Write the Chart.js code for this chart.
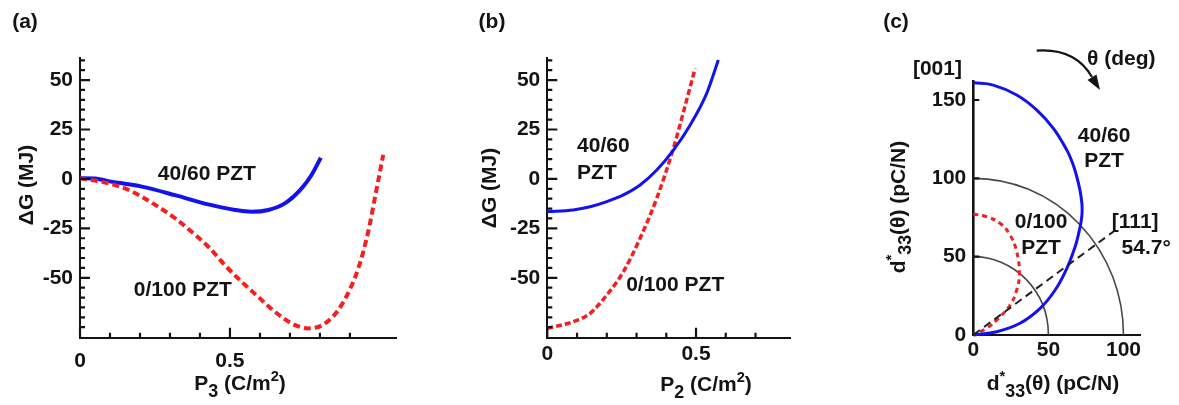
<!DOCTYPE html>
<html lang="en">
<head>
<meta charset="UTF-8">
<title>PZT free energy and d33 anisotropy</title>
<script src="https://cdn.jsdelivr.net/npm/chart.js@4"></script>
<style>
  body { margin: 0; background: #fff; }
  #wrap { position: relative; width: 1179px; height: 405px; }
  #wrap canvas { position: absolute; left: 0; top: 0; }
</style>
</head>
<body>
<div id="wrap">
  <canvas id="chartA" width="1179" height="405"></canvas>
  <canvas id="chartB" width="1179" height="405"></canvas>
  <canvas id="chartC" width="1179" height="405"></canvas>
</div>
<script>
// ---- data ----
// (a) free energy vs P3
const p3Blue = [0, 0.05, 0.094, 0.206, 0.317, 0.428, 0.517, 0.572, 0.628, 0.683, 0.739, 0.772, 0.803];
const gBlueA = [0.3, 0.2, -1.1, -3.9, -8.2, -12.9, -15.7, -16.6, -15.7, -12.4, -4.8, 2.0, 10.7];
const p3Red = [0, 0.094, 0.15, 0.206, 0.261, 0.317, 0.372, 0.428, 0.483, 0.539, 0.594, 0.65, 0.706, 0.761, 0.817, 0.872, 0.928, 0.961, 0.983, 1.011];
const gRedA = [0.3, -2.2, -4.8, -9.0, -14.1, -19.9, -26.7, -34.3, -43.6, -52.0, -59.6, -67.2, -73.1, -75.6, -73.1, -63.8, -45.2, -26.7, -9.8, 12.1];

// (b) free energy vs P2
const p2Blue = [0, 0.087, 0.144, 0.2, 0.256, 0.312, 0.368, 0.424, 0.48, 0.536, 0.575];
const gBlueB = [-16.6, -15.7, -14.1, -11.5, -8.1, -3.1, 4.5, 14.6, 27.2, 43.3, 60.1];
const p2Red = [0, 0.087, 0.144, 0.2, 0.256, 0.312, 0.368, 0.424, 0.458, 0.497];
const gRedB = [-75.6, -72.2, -68.0, -58.7, -46.9, -30.0, -9.8, 15.5, 34.0, 55.9];

// (c) d*33(theta) surface, x = d sin(theta), y = d cos(theta)
const dxBlue = [0, 13.3, 28.9, 42.3, 53.3, 62.3, 66.2, 68.9, 71.0, 72.3, 72.4, 71.6, 69.9, 67.8, 62.3, 54.5, 44.5, 31.1, 15.6, 0];
const dyBlue = [161, 159.5, 153.2, 143.6, 131.9, 118, 109.5, 101, 92.5, 84, 77.5, 71.3, 63.8, 56.4, 42.6, 28.7, 17, 7.5, 2.1, 0];
const dxRed = [0, 8.9, 17.8, 24.5, 28.9, 30.7, 28.9, 24.5, 16.7, 8.9, 0];
const dyRed = [77.2, 75.5, 71.3, 63.8, 53.2, 39.4, 28.7, 19.1, 10.6, 4.3, 0];
const dx111 = [0, 93.3];
const dy111 = [0, 66];
const rings = [50, 100];

// ticks
const gTicks = [-50, -25, 0, 25, 50];
const pTicks = [0, 0.5];
const dTicksX = [0, 50, 100];
const dTicksY = [0, 50, 100, 150];

// ---- styling ----
const FONT = '"Liberation Sans", Arial, Helvetica, sans-serif';
const SIZE = 21;
const INK = '#141414';
const BLUE = 'rgb(18,18,238)';
const RED = 'rgb(244,32,32)';

function setFont(ctx, size) {
  ctx.font = 'bold ' + size + 'px ' + FONT;
}

function label(ctx, text, x, y, align) {
  ctx.textAlign = align || 'center';
  ctx.textBaseline = 'middle';
  ctx.fillText(text, x, y);
}

// text with sub/superscripts, centred on x, baseline at y
function rich(ctx, parts, x, y) {
  const fontOf = k => setFont(ctx, k === 'sub' ? SIZE * 0.85 : k === 'sup' ? SIZE * 0.7 : SIZE);
  let w = 0;
  parts.forEach(([t, k]) => { fontOf(k); w += ctx.measureText(t).width; });
  let cx = x - w / 2;
  ctx.textAlign = 'left';
  ctx.textBaseline = 'alphabetic';
  parts.forEach(([t, k]) => {
    fontOf(k);
    const dy = k === 'sub' ? SIZE * 0.32 : k === 'sup' ? -SIZE * 0.42 : 0;
    ctx.fillText(t, cx, y + dy);
    cx += ctx.measureText(t).width;
  });
}

function vRich(ctx, parts, x, y) {
  ctx.save();
  ctx.translate(x, y);
  ctx.rotate(-Math.PI / 2);
  rich(ctx, parts, 0, 7.5);
  ctx.restore();
}

function lineSet(xs, ys, color, width, dash, smooth) {
  const set = {
    data: xs.map((x, i) => ({ x: x, y: ys[i] })),
    borderColor: color,
    borderWidth: width,
    borderDash: dash || [],
    pointRadius: 0,
    showLine: true,
    fill: false,
    clip: false
  };
  if (smooth === 'mono') set.cubicInterpolationMode = 'monotone';
  else set.tension = 0.4;
  return set;
}

function axis(min, max, ticks, fit, pad, borderW) {
  return {
    type: 'linear',
    min: min,
    max: max,
    afterBuildTicks: s => { s.ticks = ticks.map(v => ({ value: v })); },
    afterFit: s => { if (s.isHorizontal()) s.height = fit; else s.width = fit; },
    grid: { display: false, drawTicks: false },
    border: { display: true, color: INK, width: borderW },
    ticks: {
      padding: pad,
      color: INK,
      autoSkip: false,
      maxRotation: 0,
      font: { family: FONT, size: SIZE, weight: 'bold' },
      callback: v => String(v)
    }
  };
}

// inward major and minor ticks, placed through the chart's scales
function drawTicks(chart, spec) {
  const ctx = chart.ctx;
  const a = chart.chartArea;
  const xs = chart.scales.x, ys = chart.scales.y;
  ctx.save();
  ctx.setLineDash([]);
  ctx.strokeStyle = INK;
  ctx.lineWidth = 2.2;
  ctx.beginPath();
  const xMajor = spec.xMajor || [];
  xMajor.forEach(v => {
    const px = xs.getPixelForValue(v);
    ctx.moveTo(px, a.bottom); ctx.lineTo(px, a.bottom - spec.xMajorLen);
  });
  for (let i = 1; i <= (spec.xMinorCount || 0); i++) {
    const v = i * spec.xMinorStep;
    if (xMajor.some(m => Math.abs(m - v) < 1e-9)) continue;
    const px = xs.getPixelForValue(v);
    ctx.moveTo(px, a.bottom); ctx.lineTo(px, a.bottom - spec.xMinorLen);
  }
  const yMajor = spec.yMajor || [];
  yMajor.forEach(v => {
    const py = ys.getPixelForValue(v);
    ctx.moveTo(a.left, py); ctx.lineTo(a.left + spec.yMajorLen, py);
  });
  if (spec.yMinorStep) {
    for (let v = spec.yMinorFrom; v <= spec.yMinorTo; v += spec.yMinorStep) {
      if (yMajor.indexOf(v) >= 0) continue;
      const py = ys.getPixelForValue(v);
      ctx.moveTo(a.left, py); ctx.lineTo(a.left + spec.yMinorLen, py);
    }
  }
  ctx.stroke();
  ctx.restore();
}

const common = {
  responsive: false,
  animation: false,
  events: [],
  plugins: { legend: { display: false }, tooltip: { enabled: false } }
};

// ---- (a) ----
const decorA = {
  id: 'decorA',
  afterDraw(chart) {
    const { ctx, scales: { x, y } } = chart;
    drawTicks(chart, { xMajor: pTicks, xMajorLen: 10, xMinorStep: 0.1, xMinorCount: 9, xMinorLen: 5,
                       yMajor: gTicks, yMajorLen: 10, yMinorStep: 5, yMinorFrom: -75, yMinorTo: 60, yMinorLen: 5 });
    ctx.save();
    ctx.fillStyle = INK;
    setFont(ctx, SIZE);
    label(ctx, '(a)', 25, 22);
    label(ctx, '40/60 PZT', x.getPixelForValue(0.423), y.getPixelForValue(2.3));
    label(ctx, '0/100 PZT', x.getPixelForValue(0.343), y.getPixelForValue(-56.3));
    vRich(ctx, [['\u0394G (MJ)']], 25, 185);
    rich(ctx, [['P'], ['3', 'sub'], [' (C/m'], ['2', 'sup'], [')']], 240, 390);
    ctx.restore();
  }
};

new Chart(document.getElementById('chartA'), {
  type: 'scatter',
  data: {
    datasets: [
      lineSet(p3Red, gRedA, RED, 4, [7, 4], 'mono'),
      lineSet(p3Blue, gBlueA, BLUE, 4, null, 'mono')
    ]
  },
  options: Object.assign({}, common, {
    layout: { padding: { left: 30, right: 782.3, top: 58.3, bottom: 27.3 } },
    scales: {
      x: axis(0, 1.056, pTicks, 40, 11, 2),
      y: axis(-80.3, 61, gTicks, 50, 7, 2)
    }
  }),
  plugins: [decorA]
});

// ---- (b) ----
const decorB = {
  id: 'decorB',
  afterDraw(chart) {
    const { ctx, scales: { x, y } } = chart;
    drawTicks(chart, { xMajor: pTicks, xMajorLen: 10, xMinorStep: 0.1, xMinorCount: 7, xMinorLen: 5,
                       yMajor: gTicks, yMajorLen: 10, yMinorStep: 5, yMinorFrom: -75, yMinorTo: 60, yMinorLen: 5 });
    ctx.save();
    ctx.fillStyle = INK;
    setFont(ctx, SIZE);
    label(ctx, '(b)', 492, 22);
    label(ctx, '40/60', x.getPixelForValue(0.1), y.getPixelForValue(16.6), 'left');
    label(ctx, 'PZT', x.getPixelForValue(0.1), y.getPixelForValue(3.0), 'left');
    label(ctx, '0/100 PZT', x.getPixelForValue(0.43), y.getPixelForValue(-53.7));
    vRich(ctx, [['\u0394G (MJ)']], 488, 188);
    rich(ctx, [['P'], ['2', 'sub'], [' (C/m'], ['2', 'sup'], [')']], 706, 391);
    ctx.restore();
  }
};

new Chart(document.getElementById('chartB'), {
  type: 'scatter',
  data: {
    datasets: [
      lineSet(p2Blue, gBlueB, BLUE, 3, null, 'mono'),
      lineSet(p2Red, gRedB, RED, 3.5, [6, 3], 'mono')
    ]
  },
  options: Object.assign({}, common, {
    layout: { padding: { left: 497.3, right: 389, top: 58.3, bottom: 27.3 } },
    scales: {
      x: axis(0, 0.816, pTicks, 40, 4, 2),
      y: axis(-80.3, 61, gTicks, 50, 7, 2)
    }
  }),
  plugins: [decorB]
});

// ---- (c) ----
const d33Title = [['d'], ['*', 'sup'], ['33', 'sub'], ['(\u03b8) (pC/N)']];

const ringsC = {
  id: 'ringsC',
  beforeDatasetsDraw(chart) {
    const { ctx, scales: { x, y } } = chart;
    const x0 = x.getPixelForValue(0), y0 = y.getPixelForValue(0);
    ctx.save();
    ctx.strokeStyle = '#484848';
    ctx.lineWidth = 1.6;
    rings.forEach(r => {
      ctx.beginPath();
      ctx.ellipse(x0, y0, x.getPixelForValue(r) - x0, y0 - y.getPixelForValue(r), 0, -Math.PI / 2, 0);
      ctx.stroke();
    });
    ctx.restore();
  }
};

const decorC = {
  id: 'decorC',
  afterDraw(chart) {
    const { ctx, scales: { x, y } } = chart;
    drawTicks(chart, { yMajor: [50, 100, 150], yMajorLen: 6 });
    ctx.save();
    ctx.fillStyle = INK;
    setFont(ctx, SIZE);
    label(ctx, '(c)', 896, 22);
    label(ctx, '[001]', x.getPixelForValue(-23.9), y.getPixelForValue(169.8));
    label(ctx, '\u03b8 (deg)', x.getPixelForValue(98.5), y.getPixelForValue(176));
    label(ctx, '40/60', x.getPixelForValue(87.1), y.getPixelForValue(127));
    label(ctx, 'PZT', x.getPixelForValue(87.1), y.getPixelForValue(111));
    label(ctx, '0/100', x.getPixelForValue(45.1), y.getPixelForValue(72.1));
    label(ctx, 'PZT', x.getPixelForValue(45.1), y.getPixelForValue(55.5));
    label(ctx, '[111]', x.getPixelForValue(107.8), y.getPixelForValue(72.1));
    label(ctx, '54.7\u00b0', x.getPixelForValue(115.1), y.getPixelForValue(55.5));
    vRich(ctx, d33Title, 897, 207);
    rich(ctx, d33Title, 1053, 390);

    // rotation arrow
    ctx.strokeStyle = INK;
    ctx.lineWidth = 2.2;
    ctx.beginPath();
    ctx.moveTo(1036.7, 50.7);
    ctx.quadraticCurveTo(1075, 48, 1092, 77);
    ctx.stroke();
    ctx.beginPath();
    ctx.moveTo(1100, 90);
    ctx.lineTo(1087.5, 80);
    ctx.lineTo(1096.5, 74.5);
    ctx.closePath();
    ctx.fill();
    ctx.restore();
  }
};

new Chart(document.getElementById('chartC'), {
  type: 'scatter',
  data: {
    datasets: [
      lineSet(dx111, dy111, '#1e1e1e', 2, [8, 5]),
      lineSet(dxBlue, dyBlue, BLUE, 3, null),
      lineSet(dxRed, dyRed, RED, 3, [5, 4])
    ]
  },
  options: Object.assign({}, common, {
    layout: { padding: { left: 933.3, right: 39, top: 81.2, bottom: 30 } },
    scales: {
      x: axis(0, 111, dTicksX, 40, 3, 2),
      y: axis(0, 162, dTicksY, 40, 7, 2.6)
    }
  }),
  plugins: [ringsC, decorC]
});
</script>
</body>
</html>
